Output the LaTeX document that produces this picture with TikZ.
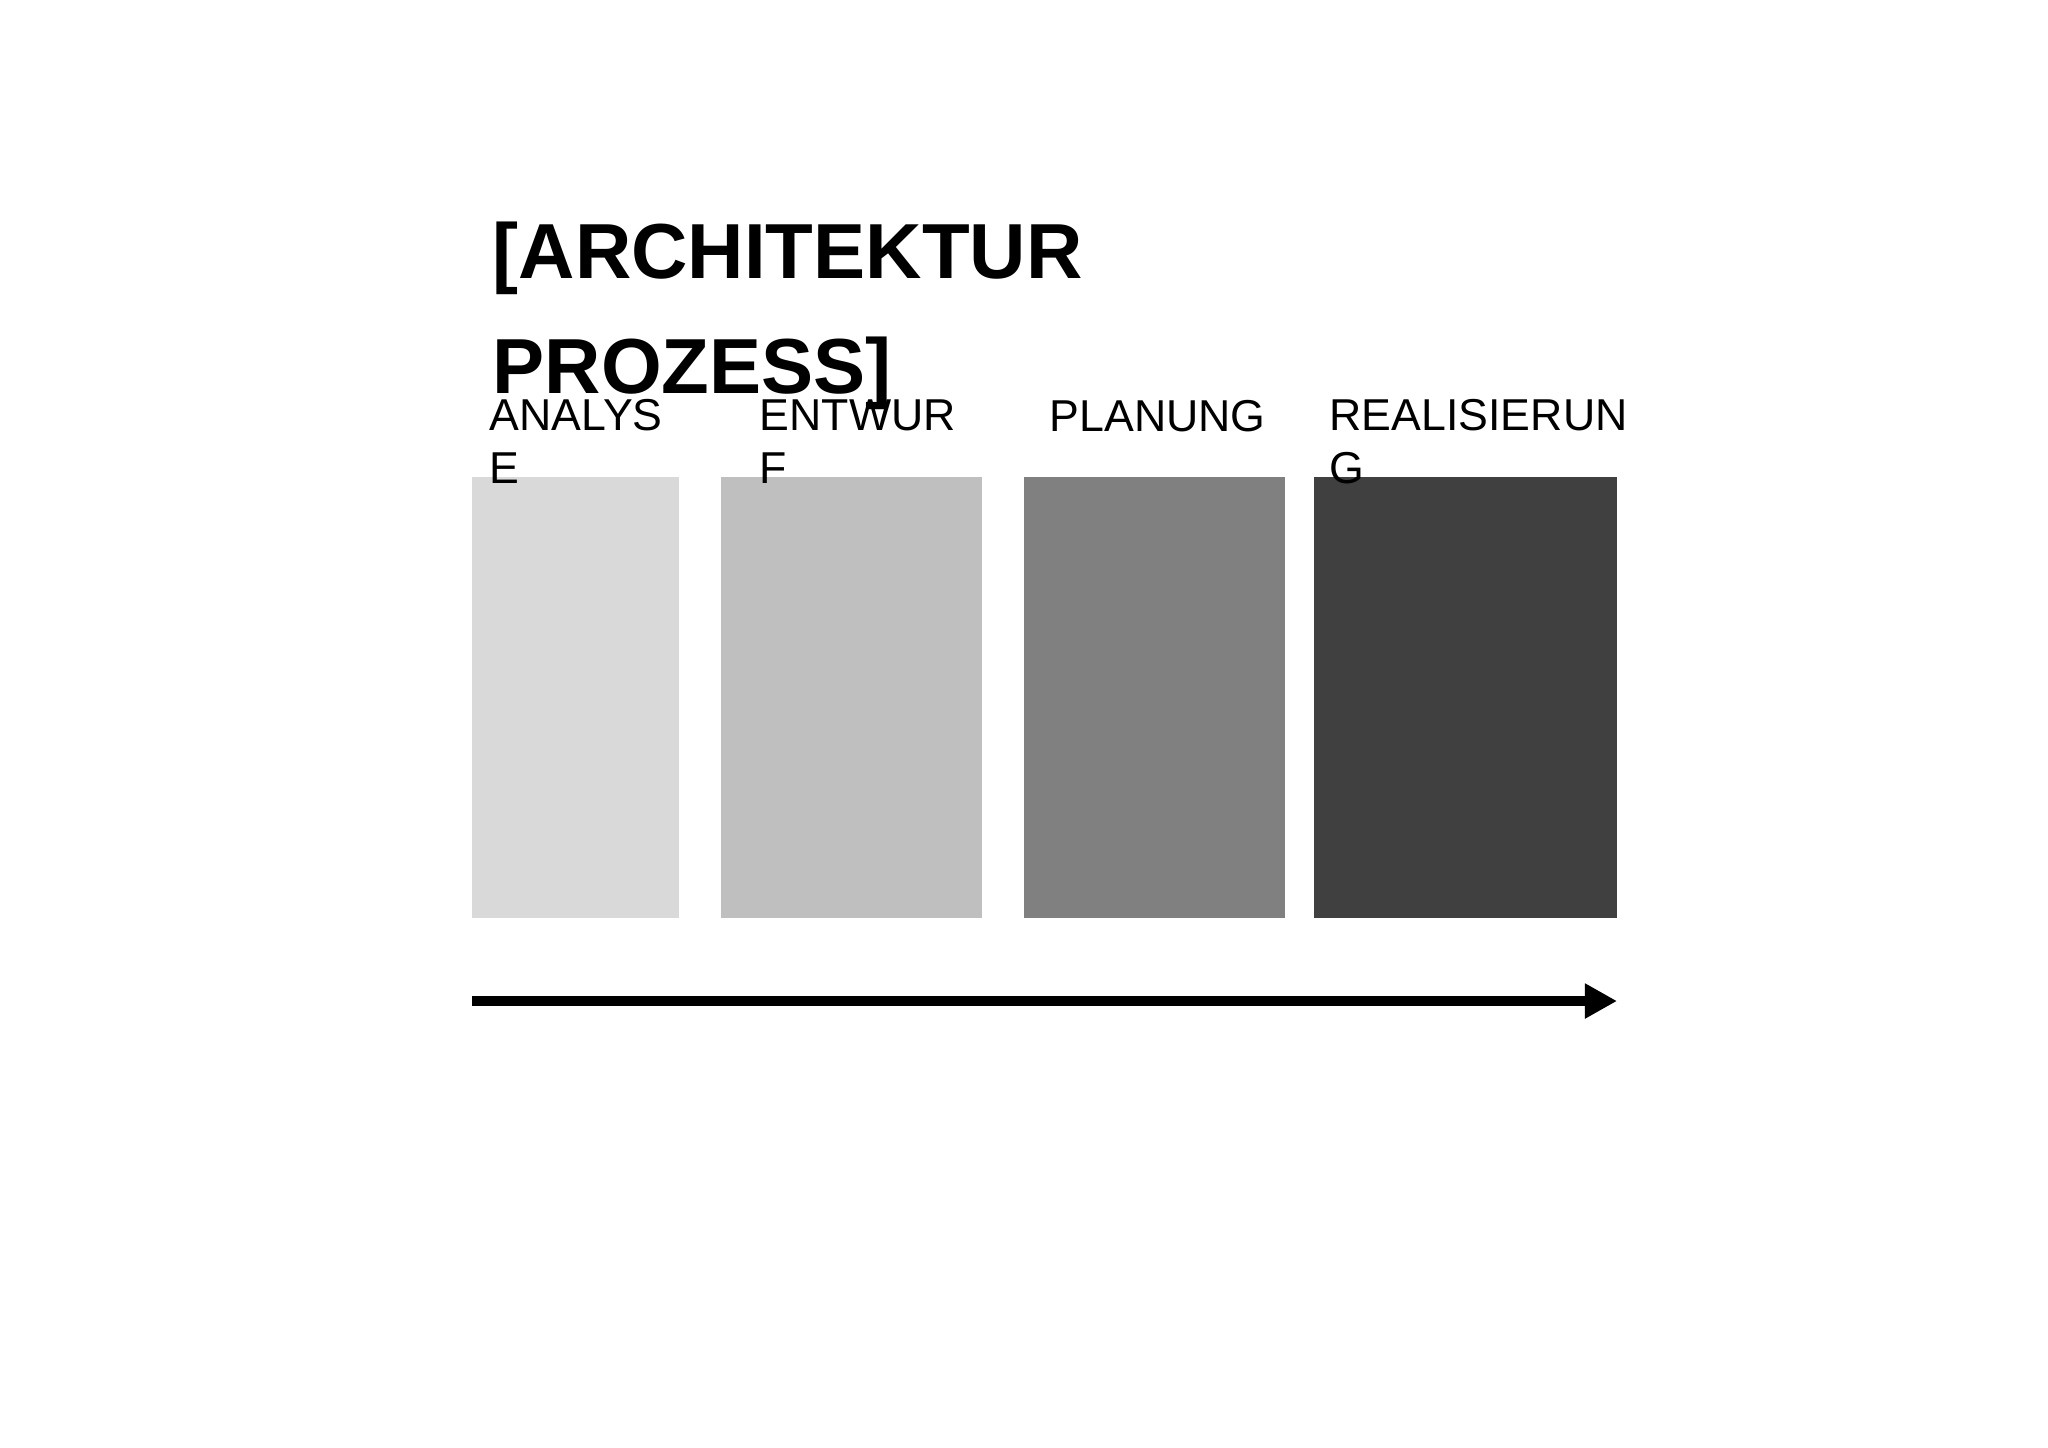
\documentclass[tikz,border=0pt]{standalone}
\usepackage{fontspec}
\setmainfont{Liberation Sans}
\usetikzlibrary{arrows.meta}

\tikzset{
  phase/.style={fill=#1},
  phaselabel/.style={anchor=base west, inner sep=0pt, align=left,
    font=\fontsize{12.7pt}{14.8pt}\selectfont},
  headline/.style={anchor=base west, inner sep=0pt, align=left,
    font=\bfseries\fontsize{22.2pt}{32.7pt}\selectfont},
  timeline/.style={line width=3.1pt, -{Triangle[length=0.32cm, width=0.33cm]}}
}

\begin{document}
\begin{tikzpicture}[x=0.01cm, y=-0.01cm]
    \useasboundingbox (0, 0) rectangle (2048, 1447);

    % phases
    \fill[phase=black!15] (472, 477) rectangle (679, 918);
    \fill[phase=black!25] (721, 477) rectangle (982, 918);
    \fill[phase=black!50] (1024, 477) rectangle (1285, 918);
    \fill[phase=black!75] (1314, 477) rectangle (1617, 918);

    % base anchor sits on the last line
    \node[headline] (title) at (492, 393) {[ARCHITEKTUR\\PROZESS]};

    \node[phaselabel] (analyse) at (489, 483) {ANALYS\\E};
    \node[phaselabel] (entwurf) at (759, 483) {ENTWUR\\F};
    \node[phaselabel] (planung) at (1049, 431) {PLANUNG};
    \node[phaselabel] (realisierung) at (1329, 483) {REALISIERUN\\G};

    % time axis
    \coordinate (start) at (472, 1001);
    \coordinate (end) at (1617, 1001);
    \draw[timeline] (start) -- (end);
  \end{tikzpicture}
\end{document}
